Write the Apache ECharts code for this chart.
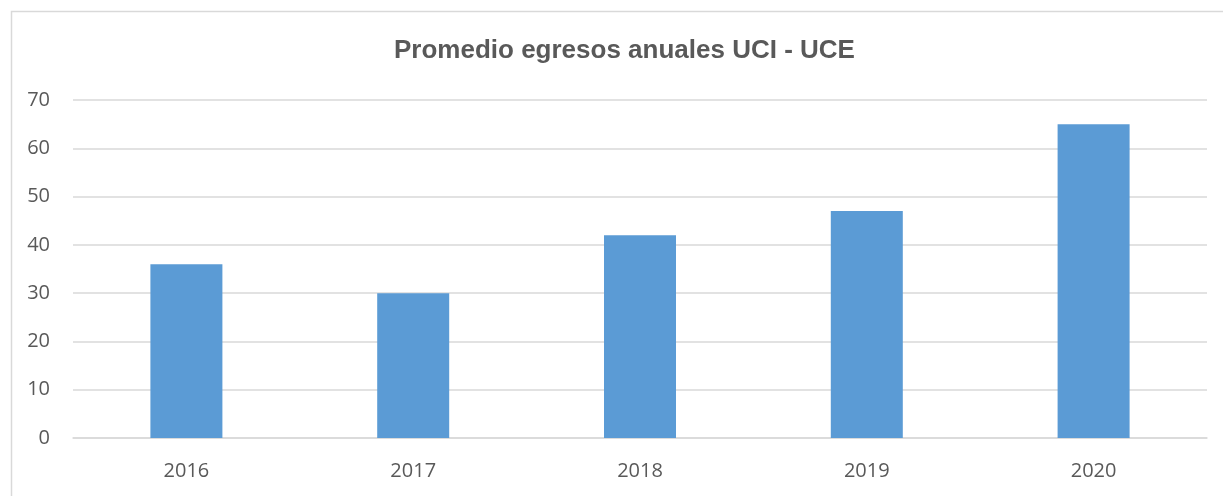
<!DOCTYPE html>
<html><head><meta charset="utf-8">
<script src="https://cdn.jsdelivr.net/npm/echarts@6/dist/echarts.min.js"></script>
<style>html,body{margin:0;padding:0;background:#fff}#c{width:1223px;height:496px}</style>
</head><body><div id="c"></div>
<script>
const categories = ['2016','2017','2018','2019','2020'];
const values = [36, 30, 42, 47, 65];
const title = 'Promedio egresos anuales UCI - UCE';

const chart = echarts.init(document.getElementById('c'), null, {renderer:'canvas'});
chart.setOption({
  animation:false,
  backgroundColor:'#fff',
  graphic:[{type:'rect',left:9,top:9,shape:{width:1240,height:520},style:{fill:'none',stroke:'#d9d9d9',lineWidth:1.5},silent:true,z:-1}],
  title:{text:title,left:389,top:33,textStyle:{fontFamily:'Liberation Sans, Arial',fontWeight:'bold',fontSize:26,color:'#595959'}},
  grid:{left:73,right:16,top:100,bottom:58},
  xAxis:{type:'category',data:categories,axisLine:{lineStyle:{color:'#d9d9d9',width:1.5}},axisTick:{show:false},
    axisLabel:{color:'#595959',fontFamily:'Open Sans',fontSize:20,margin:23}},
  yAxis:{type:'value',min:0,max:70,interval:10,axisLine:{show:false},axisTick:{show:false},
    splitLine:{lineStyle:{color:'#d9d9d9',width:1.5}},
    axisLabel:{color:'#595959',fontFamily:'Open Sans',fontSize:20,margin:23}},
  series:[{type:'bar',data:values,barWidth:72,itemStyle:{color:'#5b9bd5'}}]
});
</script></body></html>
